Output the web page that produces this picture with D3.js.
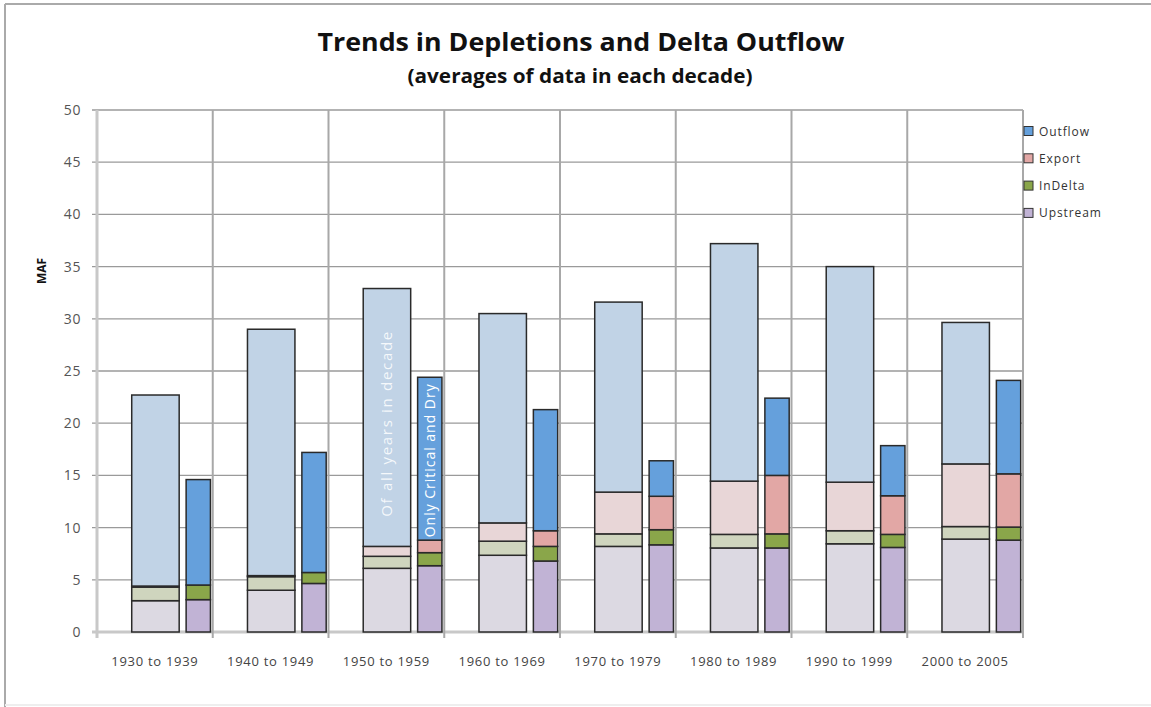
<!DOCTYPE html>
<html>
<head>
<meta charset="utf-8">
<script src="https://cdn.jsdelivr.net/npm/d3@7"></script>
<style>
  body { margin: 0; background: #fff; }
  text { font-family: "Open Sans", "DejaVu Sans", sans-serif; }
</style>
</head>
<body>
<div id="chart"></div>
<script>
// decades on the x axis
const decades = ['1930 to 1939', '1940 to 1949', '1950 to 1959', '1960 to 1969',
    '1970 to 1979', '1980 to 1989', '1990 to 1999', '2000 to 2005'];

// stack order, bottom to top
const seriesNames = ['Upstream', 'InDelta', 'Export', 'Outflow'];

// averages of all years in decade (MAF)
const allUpstream = [3.0, 4.0, 6.1, 7.35, 8.2, 8.05, 8.45, 8.9];
const allInDelta  = [1.3, 1.3, 1.15, 1.35, 1.2, 1.3, 1.25, 1.2];
const allExport   = [0.1, 0.1, 0.95, 1.75, 4.0, 5.1, 4.65, 6.0];
const allOutflow  = [18.3, 23.6, 24.7, 20.05, 18.2, 22.75, 20.65, 13.55];

// averages of critical and dry years only (MAF)
const dryUpstream = [3.1, 4.65, 6.35, 6.8, 8.35, 8.05, 8.1, 8.8];
const dryInDelta  = [1.4, 1.05, 1.25, 1.4, 1.45, 1.35, 1.25, 1.25];
const dryExport   = [0.0, 0.0, 1.2, 1.5, 3.2, 5.6, 3.7, 5.1];
const dryOutflow  = [10.1, 11.5, 15.6, 11.6, 3.4, 7.4, 4.8, 8.95];

const yTicks = [0, 5, 10, 15, 20, 25, 30, 35, 40, 45, 50];

const paleColors = { Upstream: '#dcd9e2', InDelta: '#cfd5be', Export: '#e8d6d7', Outflow: '#c1d3e6' };
const fullColors = { Upstream: '#c1b3d5', InDelta: '#8aa64a', Export: '#e2a7a5', Outflow: '#65a0dc' };

const width = 1151, height = 707;
const plot = { left: 97, right: 1023, top: 110, bottom: 632 };

const svg = d3.select('#chart').append('svg')
    .attr('width', width)
    .attr('height', height);

// outer frame
svg.append('line').attr('x1', 5).attr('x2', 5).attr('y1', 4).attr('y2', 707)
    .attr('stroke', '#aaa').attr('stroke-width', 2);
svg.append('line').attr('x1', 5).attr('x2', 1151).attr('y1', 4).attr('y2', 4)
    .attr('stroke', '#aaa').attr('stroke-width', 2);
svg.append('line').attr('x1', 5).attr('x2', 1151).attr('y1', 705).attr('y2', 705)
    .attr('stroke', '#eee').attr('stroke-width', 2);

const x = d3.scaleBand().domain(decades).range([plot.left, plot.right]).padding(0);
const y = d3.scaleLinear().domain([0, 50]).range([plot.bottom, plot.top]);
const bw = x.bandwidth();

// horizontal grid + y ticks
svg.append('g')
    .selectAll('line')
    .data(yTicks)
    .enter().append('line')
    .attr('x1', plot.left - 5)
    .attr('x2', plot.right)
    .attr('y1', d => y(d))
    .attr('y2', d => y(d))
    .attr('stroke', d => d === 0 ? '#c8c8c8' : '#9a9a9a')
    .attr('stroke-width', d => d === 0 ? 3 : 1.3);

// vertical grid at category boundaries
const bounds = decades.map(d => x(d)).concat([plot.right]);
svg.append('g')
    .selectAll('line')
    .data(bounds)
    .enter().append('line')
    .attr('x1', d => d)
    .attr('x2', d => d)
    .attr('y1', plot.top)
    .attr('y2', plot.bottom + 6)
    .attr('stroke', (d, i) => i === 0 ? '#c8c8c8' : '#a8a8a8')
    .attr('stroke-width', (d, i) => i === 0 ? 3 : 2);

// y axis labels
const yAxis = svg.append('g')
    .attr('transform', `translate(${plot.left - 6},0)`)
    .call(d3.axisLeft(y).tickValues(yTicks).tickSize(0).tickPadding(10));
yAxis.select('.domain').remove();
yAxis.selectAll('text')
    .attr('fill', '#555')
    .style('font-size', '14px')
    .style('letter-spacing', '0.6px')
    .style('font-family', '"Open Sans", sans-serif');

svg.append('text')
    .attr('transform', 'translate(46,271) rotate(-90)')
    .attr('text-anchor', 'middle')
    .attr('fill', '#111')
    .style('font-size', '12px')
    .style('font-weight', 'bold')
    .text('MAF');

// x axis labels
const xAxis = svg.append('g')
    .attr('transform', `translate(0,${plot.bottom})`)
    .call(d3.axisBottom(x).tickSize(0).tickPadding(25));
xAxis.select('.domain').remove();
xAxis.selectAll('text')
    .attr('fill', '#444')
    .style('font-size', '13px')
    .style('letter-spacing', '0.7px')
    .style('font-family', '"Open Sans", sans-serif');

// stacked data
function buildRows(up, ind, exp, out) {
    return decades.map((d, i) => ({
        decade: d, Upstream: up[i], InDelta: ind[i], Export: exp[i], Outflow: out[i]
    }));
}
const stack = d3.stack().keys(seriesNames);
const allStack = stack(buildRows(allUpstream, allInDelta, allExport, allOutflow));
const dryStack = stack(buildRows(dryUpstream, dryInDelta, dryExport, dryOutflow));

function drawBars(layers, colors, offset, barW) {
    const g = svg.append('g');
    layers.forEach(layer => {
        g.append('g')
            .selectAll('rect')
            .data(layer)
            .enter().append('rect')
            .attr('x', d => x(d.data.decade) + offset)
            .attr('width', barW)
            .attr('y', d => y(d[1]))
            .attr('height', d => y(d[0]) - y(d[1]))
            .attr('fill', colors[layer.key])
            .attr('stroke', '#2a2a2a')
            .attr('stroke-width', 1.5);
    });
}

const wideOff = bw * 0.30, wideW = bw * 0.41;
const narrowOff = bw * 0.77, narrowW = bw * 0.21;
drawBars(allStack, paleColors, wideOff, wideW);
drawBars(dryStack, fullColors, narrowOff, narrowW);

// labels inside the 1950s bars
const noteDecade = '1950 to 1959';
svg.append('text')
    .attr('transform', `translate(${x(noteDecade) + wideOff + wideW / 2 + 5},${y(19.9)}) rotate(-90)`)
    .attr('text-anchor', 'middle')
    .attr('fill', '#ffffff')
    .attr('fill-opacity', 0.85)
    .attr('textLength', 185)
    .attr('lengthAdjust', 'spacing')
    .style('font-size', '15px')
    .text('Of all years in decade');
svg.append('text')
    .attr('transform', `translate(${x(noteDecade) + narrowOff + narrowW / 2 + 5},${y(16.4)}) rotate(-90)`)
    .attr('text-anchor', 'middle')
    .attr('fill', '#ffffff')
    .attr('textLength', 153)
    .attr('lengthAdjust', 'spacing')
    .style('font-size', '14px')
    .text('Only Critical and Dry');

// legend
const legend = svg.append('g')
    .selectAll('g')
    .data(seriesNames.slice().reverse())
    .enter().append('g')
    .attr('transform', (d, i) => `translate(1024,${131 + i * 27.3})`);
legend.append('rect')
    .attr('x', 0)
    .attr('y', -4.5)
    .attr('width', 9)
    .attr('height', 9)
    .attr('fill', d => fullColors[d])
    .attr('stroke', '#333')
    .attr('stroke-width', 1);
legend.append('text')
    .attr('x', 15)
    .attr('y', 4.5)
    .attr('fill', '#333')
    .style('font-size', '12px')
    .style('letter-spacing', '0.9px')
    .text(d => d);

// titles
svg.append('text')
    .attr('x', 581)
    .attr('y', 51)
    .attr('text-anchor', 'middle')
    .attr('fill', '#111')
    .attr('textLength', 527)
    .attr('lengthAdjust', 'spacingAndGlyphs')
    .style('font-size', '25px')
    .style('font-weight', 'bold')
    .text('Trends in Depletions and Delta Outflow');
svg.append('text')
    .attr('x', 580)
    .attr('y', 83)
    .attr('text-anchor', 'middle')
    .attr('fill', '#111')
    .attr('textLength', 345)
    .attr('lengthAdjust', 'spacingAndGlyphs')
    .style('font-size', '19px')
    .style('font-weight', 'bold')
    .text('(averages of data in each decade)');
</script>
</body>
</html>
